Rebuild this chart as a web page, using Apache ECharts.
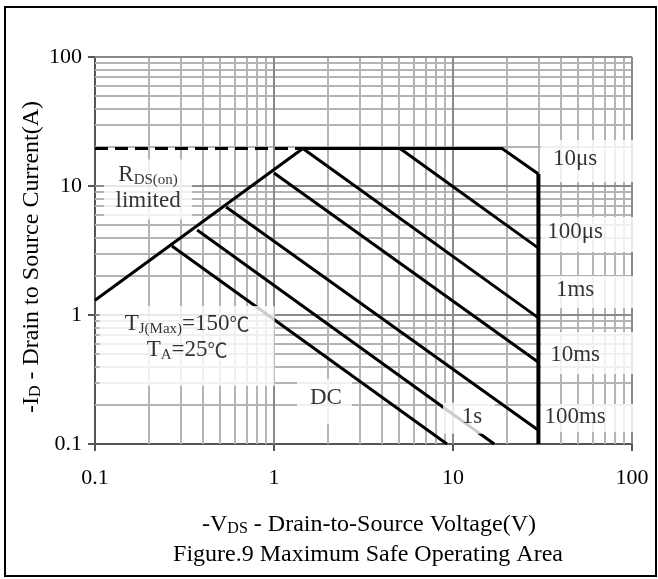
<!DOCTYPE html>
<html><head><meta charset="utf-8">
<script src="https://cdn.jsdelivr.net/npm/echarts@6/dist/echarts.min.js"></script>
<style>html,body{margin:0;padding:0;background:#fff}#c{width:658px;height:579px}</style>
</head><body><div id="c"></div>
<script>
// ---- tick labels / grid values ----
const xTickLabels = ['0.1', '1', '10', '100'];
const yTickLabels = ['0.1', '1', '10', '100'];
const minorGrid = [0.2,0.3,0.4,0.5,0.6,0.7,0.8,0.9,2,3,4,5,6,7,8,9,20,30,40,50,60,70,80,90];
const majorGrid = [1, 10, 100];

// ---- SOA boundary curves [V, A] ----
const rdsLimit   = [[0.1, 1.3], [1.45, 19.5]];
const rdsDashed  = [[0.1, 19.5], [1.45, 19.5]];
const pulse10us  = [[1.45, 19.5], [18.8, 19.5], [30, 12.4]];
const vdsLimit   = [[30, 12.4], [30, 0.1]];
const pulse100us = [[5.06, 19.5], [30, 3.3]];
const pulse1ms   = [[1.45, 19.5], [30, 0.95]];
const pulse10ms  = [[1.0, 12.6], [30, 0.43]];
const pulse100ms = [[0.54, 6.87], [30, 0.128]];
const pulse1s    = [[0.372, 4.56], [17, 0.1]];
const pulseDC    = [[0.269, 3.43], [9.25, 0.1]];

// ---- annotation texts and anchor points [V, A] ----
const noteTexts = [
  '{b|R}{s|DS(on)}\n{b|limited}',
  '{b|T}{s|J(Max)}{b|=150}{c|℃}\n{b|T}{s|A}{b|=25}{c|℃}',
  '{b|DC}',
  '{b|1s}',
  '{b|10μs}',
  '{b|100μs}',
  '{b|1ms}',
  '{b|10ms}',
  '{b|100ms}'
];
const noteAnchors = [
  [0.198, 9.4],
  [0.327, 0.575],
  [1.914, 0.2136],
  [12.29, 0.158],
  [57.2, 15.6],
  [57.2, 4.21],
  [57.2, 1.51],
  [57.2, 0.507],
  [57.2, 0.159]
];

const F = "'Liberation Serif','Noto Sans CJK SC',serif";
const CJK = "'Noto Sans CJK SC'";
const noteBoxes = [ // [width, padding]
  [88, [2, 0, 6, 0]],
  [175, [5, 0, 23, 0]],
  [52, [6, 0, 13, 3]],
  [46, [1, 0, 4, 6]],
  [68, [6, 27, 10, 0]],
  [68, [2, 27, 7, 0]],
  [68, [1, 27, 5, 0]],
  [68, [10, 27, 6, 0]],
  [68, [0, 27, 2, 0]]
];
const rich = {
  b: {fontSize: 23, fontFamily: F, color: '#000', lineHeight: 26},
  c: {fontSize: 20, fontFamily: CJK, color: '#000', lineHeight: 26},
  s: {fontSize: 15, fontFamily: F, color: '#000', lineHeight: 11, verticalAlign: 'bottom'}
};

function curve(data, extra) {
  return Object.assign({
    type: 'line', data: data, symbol: 'none', showSymbol: false, silent: true,
    animation: false, z: 3,
    lineStyle: {color: '#000', width: 3, cap: 'butt', join: 'miter'}
  }, extra || {});
}
function gridSeries(vals, color, width) {
  return {
    type: 'line', data: [], silent: true, animation: false, z: 1,
    markLine: {
      silent: true, animation: false, symbol: ['none', 'none'], z: 1,
      label: {show: false},
      lineStyle: {color: color, width: width, type: 'solid'},
      emphasis: {disabled: true},
      data: vals.map(v => ({xAxis: v})).concat(vals.map(v => ({yAxis: v})))
    }
  };
}
function tickFmt(labels) {
  return function (v) { return labels[Math.round(Math.log10(v)) + 1]; };
}
const axisCommon = {
  type: 'log', logBase: 10, min: 0.1, max: 100,
  axisLine: {show: true, onZero: false, lineStyle: {color: '#555', width: 2}},
  axisTick: {show: true, length: 7, lineStyle: {color: '#555', width: 2}},
  splitLine: {show: false},
  minorTick: {show: false}, minorSplitLine: {show: false}
};

const chart = echarts.init(document.getElementById('c'), null, {renderer: 'canvas'});
chart.setOption({
  animation: false,
  backgroundColor: '#fff',
  grid: {left: 95, top: 57, right: 26, bottom: 135, containLabel: false},
  xAxis: Object.assign({}, axisCommon, {
    axisLabel: {margin: 23, fontSize: 22, fontFamily: F, color: '#000', formatter: tickFmt(xTickLabels)}
  }),
  yAxis: Object.assign({}, axisCommon, {
    axisLabel: {margin: 13, fontSize: 22, fontFamily: F, color: '#000', formatter: tickFmt(yTickLabels)}
  }),
  series: [
    gridSeries(minorGrid, '#b4b4b4', 2),
    gridSeries(majorGrid, '#8a8a8a', 2),
    curve(rdsDashed, {lineStyle: {color: '#000', width: 3, type: [13, 7]}}),
    curve(rdsLimit),
    curve(pulse10us),
    curve(vdsLimit, {lineStyle: {color: '#000', width: 4}}),
    curve(pulse100us),
    curve(pulse1ms),
    curve(pulse10ms),
    curve(pulse100ms),
    curve(pulse1s),
    curve(pulseDC),
    {
      type: 'scatter', symbolSize: 0, silent: true, animation: false, z: 10, clip: false,
      data: noteAnchors.map((p, i) => ({
        value: p,
        label: {
          show: true, position: 'inside', formatter: noteTexts[i], rich: rich,
          backgroundColor: '#fff', width: noteBoxes[i][0], padding: noteBoxes[i][1],
          align: 'center', fontFamily: F, fontSize: 23, color: '#000'
        }
      }))
    }
  ],
  graphic: [
    {type: 'rect', silent: true, shape: {x: 5, y: 7, width: 651, height: 569},
     style: {fill: 'none', stroke: '#000', lineWidth: 2}, z: 100},
    {type: 'text', silent: true, x: 369, y: 525,
     style: {text: '-V{s|DS} - Drain-to-Source Voltage(V)', fill: '#000',
       font: "24px 'Liberation Serif'", align: 'center', textAlign: 'center', verticalAlign: 'middle',
       rich: {s: {fontSize: 16, fontFamily: F, lineHeight: 12, verticalAlign: 'bottom'}}}},
    {type: 'text', silent: true, x: 368, y: 555,
     style: {text: 'Figure.9 Maximum Safe Operating Area', fill: '#000',
       font: "24px 'Liberation Serif'", align: 'center', textAlign: 'center', verticalAlign: 'middle'}},
    {type: 'text', silent: true, x: 32, y: 257, rotation: Math.PI / 2,
     style: {text: '-I{s|D} - Drain to Source Current(A)', fill: '#000',
       font: "24px 'Liberation Serif'", align: 'center', textAlign: 'center', verticalAlign: 'middle',
       rich: {s: {fontSize: 16, fontFamily: F, lineHeight: 12, verticalAlign: 'bottom'}}}}
  ]
});
</script>
</body></html>
